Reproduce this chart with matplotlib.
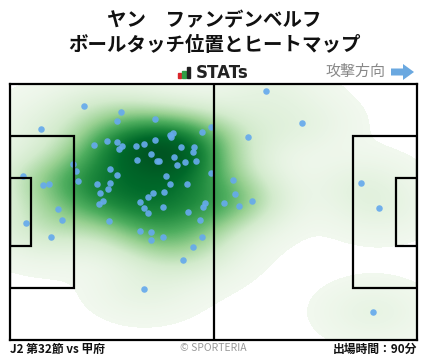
import matplotlib
matplotlib.use("Agg")
import matplotlib.pyplot as plt
import matplotlib.transforms as mtransforms
from matplotlib.colors import LinearSegmentedColormap
from matplotlib.patches import FancyArrow, Rectangle
import numpy as np

plt.rcParams["font.family"] = ["Noto Sans CJK JP", "DejaVu Sans"]

TITLE = "ヤン\u3000ファンデンベルフ\nボールタッチ位置とヒートマップ"
MATCH = "J2 第32節 vs 甲府"
MINUTES = "出場時間：90分"

# ball touch positions (m, pitch 105 x 68, attacking to the right)
touch_x = [19.17, 28.72, 27.48, 37.49, 8.08, 41.41, 42.13, 41.28, 49.61, 51.86,
           21.75, 25.10, 27.68, 28.20, 28.97, 32.58, 34.65, 37.49, 44.17, 47.55,
           47.29, 36.45, 42.36, 32.84, 38.00, 38.36, 43.16, 45.23, 48.06, 16.33,
           16.95, 17.60, 25.88, 27.68, 40.32, 51.86, 3.41, 8.59, 10.14, 22.52,
           25.88, 41.36, 45.74, 23.30, 25.36, 36.97, 35.68, 39.81, 24.07, 23.04,
           33.62, 34.65, 35.68, 39.55, 46.00, 50.36, 49.87, 49.10, 12.46, 13.49,
           25.62, 4.21, 10.66, 33.62, 36.45, 36.45, 39.55, 49.61, 47.29, 44.71,
           34.65, 66.12, 75.41, 61.48, 57.61, 58.13, 62.51, 55.29, 59.16, 90.63,
           95.28, 93.73]
touch_y = [62.16, 60.48, 58.12, 58.62, 55.97, 53.79, 54.90, 54.45, 55.17, 56.50,
           51.72, 52.78, 52.51, 50.68, 51.45, 51.45, 52.01, 53.05, 51.19, 51.19,
           49.86, 49.35, 48.53, 47.73, 47.49, 47.47, 46.38, 47.20, 47.47, 46.70,
           44.84, 42.15, 45.37, 43.75, 43.62, 44.28, 43.56, 41.09, 41.36, 41.36,
           41.62, 41.36, 41.36, 38.97, 40.03, 38.97, 37.90, 39.23, 36.79, 36.05,
           36.58, 34.98, 33.65, 35.25, 33.92, 36.31, 35.27, 31.93, 34.72, 31.88,
           31.66, 31.00, 27.28, 28.87, 28.61, 26.48, 27.28, 27.28, 24.62, 21.17,
           13.47, 66.06, 57.56, 53.84, 42.37, 38.70, 36.84, 36.31, 35.51, 41.62,
           34.98, 7.36]

PITCH_L, PITCH_W = 105.0, 68.0

fig = plt.figure(figsize=(4.28, 3.59), dpi=100)
ax = fig.add_axes([10 / 428, 19 / 359, 407 / 428, 256 / 359])

# kernel density heat map
tx = np.array(touch_x)
ty = np.array(touch_y)
gx, gy = np.meshgrid(np.linspace(0, PITCH_L, 407), np.linspace(0, PITCH_W, 256))
bw_x, bw_y = 8.6, 5.2
dens = np.zeros_like(gx)
for x0, y0 in zip(tx, ty):
    dens += np.exp(-0.5 * (((gx - x0) / bw_x) ** 2 + ((gy - y0) / bw_y) ** 2))
cutoff = 0.14  # summed kernel value below which the pitch stays white

greens = LinearSegmentedColormap.from_list(
    "heat", ["#f1f8ee", "#d3ebcd", "#99d192", "#4fae5f", "#1f8a3e", "#00692a", "#005522"])
greens.set_under("white")
ax.imshow(dens, origin="lower", extent=[0, PITCH_L, 0, PITCH_W], cmap=greens,
          vmin=cutoff, vmax=dens.max(), aspect="auto", interpolation="nearest", zorder=1)

ax.scatter(tx, ty, s=22, color="#66aaec", alpha=0.92, linewidths=0, zorder=3)

# pitch lines
lw = 1.6
line_kw = dict(fill=False, edgecolor="black", linewidth=lw, zorder=4)
ax.add_patch(Rectangle((0, (PITCH_W - 40.32) / 2), 16.5, 40.32, **line_kw))
ax.add_patch(Rectangle((0, (PITCH_W - 18.32) / 2), 5.5, 18.32, **line_kw))
ax.add_patch(Rectangle((PITCH_L - 16.5, (PITCH_W - 40.32) / 2), 16.5, 40.32, **line_kw))
ax.add_patch(Rectangle((PITCH_L - 5.5, (PITCH_W - 18.32) / 2), 5.5, 18.32, **line_kw))
ax.plot([PITCH_L / 2, PITCH_L / 2], [0, PITCH_W], color="black", linewidth=lw, zorder=4)

ax.set_xlim(0, PITCH_L)
ax.set_ylim(0, PITCH_W)
ax.set_xticks([])
ax.set_yticks([])
for sp in ax.spines.values():
    sp.set_linewidth(lw)
    sp.set_color("black")
    sp.set_zorder(5)

# header
fig.text(0.5, 1 - 33 / 359, TITLE, ha="center", va="center", fontsize=14,
         fontweight="bold", linespacing=1.35, color="#111111")

px = mtransforms.Affine2D().scale(1 / 428, 1 / 359) + fig.transFigure
for bx, bh, c in [(178, 5, "#d9262b"), (182.5, 7, "#2f9e44"), (187, 11, "#222222")]:
    fig.patches.append(Rectangle((bx, 281), 3.2, bh, color=c, transform=px))
fig.text(196 / 428, 1 - 73 / 359, "STATs", ha="left", va="center", fontsize=12,
         fontweight="bold", color="#222222", family=["DejaVu Sans"])
fig.text(385 / 428, 1 - 72 / 359, "攻撃方向", ha="right", va="center", fontsize=10.8,
         color="#888888")
fig.patches.append(FancyArrow(391, 287, 12, 0, width=7, head_width=16, head_length=11,
                              length_includes_head=False, color="#6aa8e0",
                              linewidth=0, transform=px))

# footer
fig.text(10 / 428, 1 - 349 / 359, MATCH, ha="left", va="center", fontsize=8.5,
         fontweight="bold", color="#111111")
fig.text(213 / 428, 1 - 348 / 359, "© SPORTERIA", ha="center", va="center",
         fontsize=7.5, color="#999999")
fig.text(417 / 428, 1 - 349 / 359, MINUTES, ha="right", va="center", fontsize=8.5,
         fontweight="bold", color="#111111")

fig.savefig("out.png", dpi=100, facecolor="white")
